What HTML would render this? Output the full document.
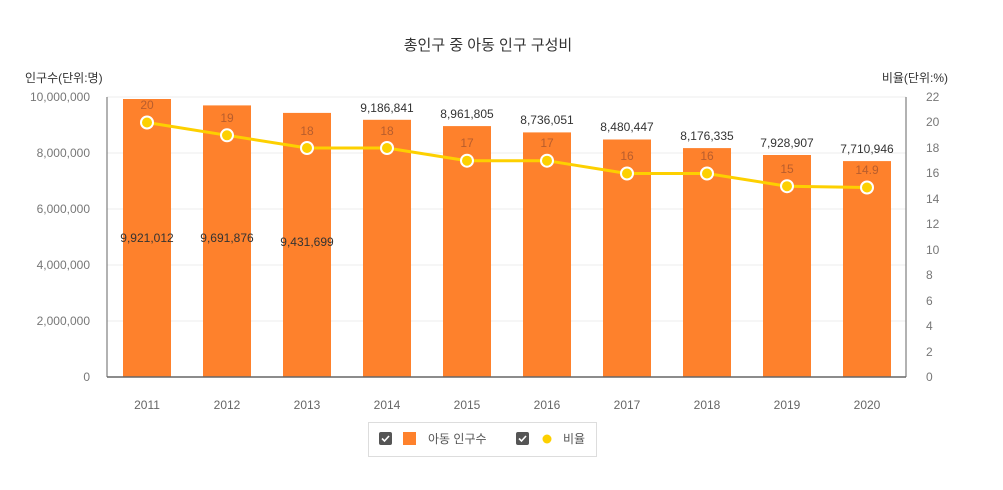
<!DOCTYPE html><html><head><meta charset="utf-8"><style>body{margin:0;background:#fff}</style></head><body>
<svg width="1003" height="485" xmlns="http://www.w3.org/2000/svg" font-family="'Liberation Sans','Noto Sans CJK KR',sans-serif">
<text x="488" y="50" font-size="15" fill="#333" text-anchor="middle">총인구 중 아동 인구 구성비</text>
<text x="25" y="82" font-size="12" fill="#333">인구수(단위:명)</text>
<text x="948" y="82" font-size="12" fill="#333" text-anchor="end">비율(단위:%)</text>
<g stroke="#eee" stroke-width="1">
<line x1="107" x2="906" y1="97" y2="97"/><line x1="107" x2="906" y1="153" y2="153"/><line x1="107" x2="906" y1="209" y2="209"/><line x1="107" x2="906" y1="265" y2="265"/><line x1="107" x2="906" y1="321" y2="321"/></g>
<g font-size="12" fill="#777" text-anchor="end">
<text x="90" y="101">10,000,000</text><text x="90" y="157">8,000,000</text><text x="90" y="213">6,000,000</text><text x="90" y="269">4,000,000</text><text x="90" y="325">2,000,000</text><text x="90" y="381">0</text></g>
<g font-size="12" fill="#777" text-anchor="start">
<text x="926" y="101">22</text><text x="926" y="126">20</text><text x="926" y="152">18</text><text x="926" y="177">16</text><text x="926" y="203">14</text><text x="926" y="228">12</text><text x="926" y="254">10</text><text x="926" y="279">8</text><text x="926" y="305">6</text><text x="926" y="330">4</text><text x="926" y="356">2</text><text x="926" y="381">0</text></g>
<g fill="#fe812c">
<rect x="123" y="99" width="48" height="278"/><rect x="203" y="105.4" width="48" height="271.6"/><rect x="283" y="112.9" width="48" height="264.1"/><rect x="363" y="119.8" width="48" height="257.2"/><rect x="443" y="126.1" width="48" height="250.9"/><rect x="523" y="132.4" width="48" height="244.6"/><rect x="603" y="139.5" width="48" height="237.5"/><rect x="683" y="148.1" width="48" height="228.9"/><rect x="763" y="155" width="48" height="222"/><rect x="843" y="161.1" width="48" height="215.9"/></g>
<line x1="107" y1="97" x2="107" y2="377" stroke="#666"/><line x1="906" y1="97" x2="906" y2="377" stroke="#666"/><line x1="107" y1="377" x2="906" y2="377" stroke="#666" stroke-width="1.5"/>
<g font-size="12" fill="#333" text-anchor="middle">
<text x="147" y="242">9,921,012</text><text x="227" y="242">9,691,876</text><text x="307" y="246">9,431,699</text>
<text x="387" y="112">9,186,841</text><text x="467" y="118">8,961,805</text><text x="547" y="124">8,736,051</text><text x="627" y="131">8,480,447</text><text x="707" y="140">8,176,335</text><text x="787" y="147">7,928,907</text><text x="867" y="153">7,710,946</text></g>
<polyline fill="none" stroke="#fdd000" stroke-width="3" points="147,122.5 227,135.3 307,148 387,148 467,160.7 547,160.7 627,173.5 707,173.5 787,186.2 867,187.5"/>
<g fill="#fdd000" stroke="#fff" stroke-width="2">
<circle cx="147" cy="122.5" r="6"/><circle cx="227" cy="135.3" r="6"/><circle cx="307" cy="148" r="6"/><circle cx="387" cy="148" r="6"/><circle cx="467" cy="160.7" r="6"/><circle cx="547" cy="160.7" r="6"/><circle cx="627" cy="173.5" r="6"/><circle cx="707" cy="173.5" r="6"/><circle cx="787" cy="186.2" r="6"/><circle cx="867" cy="187.5" r="6"/></g>
<g font-size="12" fill="#a0522d" fill-opacity="0.75" text-anchor="middle">
<text x="147" y="109">20</text><text x="227" y="122">19</text><text x="307" y="135">18</text><text x="387" y="135">18</text><text x="467" y="147">17</text><text x="547" y="147">17</text><text x="627" y="160">16</text><text x="707" y="160">16</text><text x="787" y="173">15</text><text x="867" y="174">14.9</text></g>
<g font-size="12" fill="#666" text-anchor="middle">
<text x="147" y="409">2011</text><text x="227" y="409">2012</text><text x="307" y="409">2013</text><text x="387" y="409">2014</text><text x="467" y="409">2015</text><text x="547" y="409">2016</text><text x="627" y="409">2017</text><text x="707" y="409">2018</text><text x="787" y="409">2019</text><text x="867" y="409">2020</text></g>
<rect x="368.5" y="422.5" width="228" height="34" fill="#fff" stroke="#ddd"/>
<rect x="379" y="432" width="13" height="13" rx="2" fill="#555"/><path d="M382 438.5l2.5 2.5 4.5-5" stroke="#fff" stroke-width="1.6" fill="none"/>
<rect x="403" y="432" width="13" height="13" fill="#fe812c"/>
<text x="428" y="443" font-size="12" fill="#555">아동 인구수</text>
<rect x="516" y="432" width="13" height="13" rx="2" fill="#555"/><path d="M519 438.5l2.5 2.5 4.5-5" stroke="#fff" stroke-width="1.6" fill="none"/>
<circle cx="547" cy="439" r="4.5" fill="#fdd000"/>
<text x="563" y="443" font-size="12" fill="#555">비율</text>
</svg></body></html>
